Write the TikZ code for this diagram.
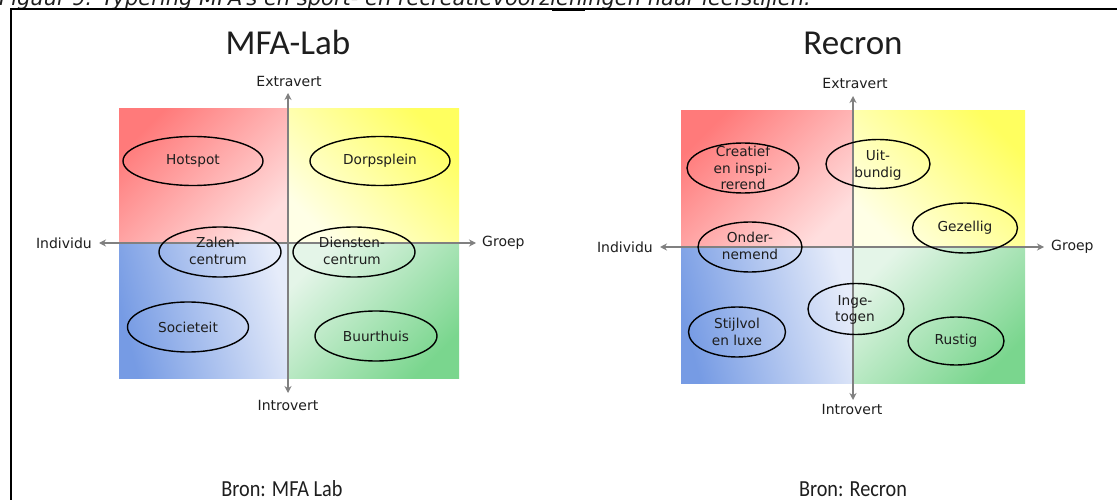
\documentclass[tikz,border=0pt]{standalone}
\usepackage{fontspec}
\setmainfont{DejaVu Sans}
\newfontfamily\titlefont{Carlito}
\newfontfamily\bronfont[FakeStretch=0.88]{Carlito}
\usetikzlibrary{shapes.geometric,arrows.meta}
\definecolor{qred}{RGB}{255,122,122}
\definecolor{qredl}{RGB}{255,222,222}
\definecolor{qyel}{RGB}{255,255,95}
\definecolor{qyell}{RGB}{255,255,230}
\definecolor{qblue}{RGB}{118,155,228}
\definecolor{qbluel}{RGB}{230,236,250}
\definecolor{qgrn}{RGB}{122,214,142}
\definecolor{qgrnl}{RGB}{228,245,232}
\definecolor{axgray}{RGB}{128,128,128}
\definecolor{txt}{RGB}{30,30,30}
\begin{document}
\begin{tikzpicture}[x=1pt,y=-1pt,
  oval/.style={draw=black, line width=1.4pt, ellipse, inner sep=0pt},
  lbl/.style={font=\fontsize{13.7}{16.8}\selectfont, align=center, inner sep=0pt, text=txt},
  axlbl/.style={font=\fontsize{14}{16}\selectfont, inner sep=0pt, text=txt},
  axarrow/.style={draw=axgray, line width=1.5pt, {Stealth[length=7pt,width=7pt]}-{Stealth[length=7pt,width=7pt]}},
  ttl/.style={font=\titlefont\fontsize{35}{35}\selectfont, anchor=base, inner sep=0pt, text=txt},
  bron/.style={font=\bronfont\fontsize{23}{23}\selectfont, anchor=base, inner sep=0pt, text=txt},
  qTL/.style={top color=qred, bottom color=qredl, shading angle=45},
  qTR/.style={top color=qyel, bottom color=qyell, shading angle=-45},
  qBL/.style={bottom color=qblue, top color=qbluel, shading angle=-75},
  qBR/.style={bottom color=qgrn, top color=qgrnl, shading angle=45},
]
\useasboundingbox (0,0) rectangle (1117,500);
\clip (0,0) rectangle (1117,500);
\fill[white] (0,0) rectangle (1117,500);

% caption (cut off at top) and frame
\node[anchor=base west, inner sep=0pt, font=\itshape\fontsize{21}{24}\selectfont, text=txt] (cap) at (-1,5.5)
  {Figuur 9: Typering MFA's en sport- en recreatievoorzieningen naar leefstijlen.};
\coordinate (fBL) at (11,500);
\coordinate (fTL) at (11,9);
\coordinate (fTR) at (1117,9);
\draw[line width=1.5pt] (fBL) -- (fTL) -- (fTR);
\draw[line width=2.5pt] (552,9.5) -- (585,9.5);

% ================= LEFT: MFA-Lab =================
\shade[qTL] (119,109) rectangle (289,243);
\shade[qTR] (289,109) rectangle (459,243);
\shade[qBL] (119,243) rectangle (289,378);
\shade[qBR] (289,243) rectangle (459,378);

\coordinate (aLw) at (99,243);
\coordinate (aLe) at (476,243);
\coordinate (aLn) at (288,93);
\coordinate (aLs) at (288,393);
\draw[axarrow] (aLw) -- (aLe);
\draw[axarrow] (aLn) -- (aLs);

\node[ttl] (t1) at (288,55) {MFA-Lab};
\node[axlbl] (ext1) at (289,81) {Extravert};
\node[axlbl] (int1) at (288,405) {Introvert};
\node[axlbl, anchor=east] (ind1) at (92,243) {Individu};
\node[axlbl, anchor=west] (grp1) at (482,243) {Groep};

\node[oval, minimum width=140, minimum height=49] (hot) at (193,161) {};
\node[lbl] (thot) at (hot) {Hotspot};
\node[oval, minimum width=140, minimum height=49] (dorp) at (380,161) {};
\node[lbl] (tdorp) at (dorp) {Dorpsplein};
\node[oval, minimum width=122, minimum height=50] (zalen) at (220,252) {};
\node[lbl] (tzalen) at (218,251) {Zalen-\\centrum};
\node[oval, minimum width=122, minimum height=50] (dien) at (354,252) {};
\node[lbl] (tdien) at (352,251) {Diensten-\\centrum};
\node[oval, minimum width=121, minimum height=50] (soc) at (188,327) {};
\node[lbl] (tsoc) at (soc) {Societeit};
\node[oval, minimum width=122, minimum height=50] (buur) at (376,336) {};
\node[lbl] (tbuur) at (buur) {Buurthuis};

\node[bron] (b1) at (282,496) {Bron: MFA Lab};

% ================= RIGHT: Recron =================
\shade[qTL] (681,111) rectangle (853,247);
\shade[qTR] (853,111) rectangle (1025,247);
\shade[qBL] (681,247) rectangle (853,383);
\shade[qBR] (853,247) rectangle (1025,383);

\coordinate (aRw) at (660,247);
\coordinate (aRe) at (1044,247);
\coordinate (aRn) at (853,96);
\coordinate (aRs) at (853,400);
\draw[axarrow] (aRw) -- (aRe);
\draw[axarrow] (aRn) -- (aRs);

\node[ttl] (t2) at (853,55) {Recron};
\node[axlbl] (ext2) at (855,83) {Extravert};
\node[axlbl] (int2) at (852,409) {Introvert};
\node[axlbl, anchor=east] (ind2) at (653,247) {Individu};
\node[axlbl, anchor=west] (grp2) at (1051,247) {Groep};

\node[oval, minimum width=112, minimum height=50] (crea) at (743,168) {};
\node[lbl] (tcrea) at (crea) {Creatief\\en inspi-\\rerend};
\node[oval, minimum width=104, minimum height=49] (uit) at (878,164) {};
\node[lbl] (tuit) at (878,165) {Uit-\\bundig};
\node[oval, minimum width=105, minimum height=50] (gez) at (965,228) {};
\node[lbl] (tgez) at (gez) {Gezellig};
\node[oval, minimum width=104, minimum height=50] (ond) at (750,247) {};
\node[lbl] (tond) at (750,246) {Onder-\\nemend};
\node[oval, minimum width=96, minimum height=51] (inge) at (856,309) {};
\node[lbl] (tinge) at (855,310) {Inge-\\togen};
\node[oval, minimum width=97, minimum height=50] (stijl) at (737,332) {};
\node[lbl] (tstijl) at (737,332) {Stijlvol\\en luxe};
\node[oval, minimum width=96, minimum height=48] (rust) at (956,341) {};
\node[lbl] (trust) at (rust) {Rustig};

\node[bron] (b2) at (853,496) {Bron: Recron};
\end{tikzpicture}
\end{document}
